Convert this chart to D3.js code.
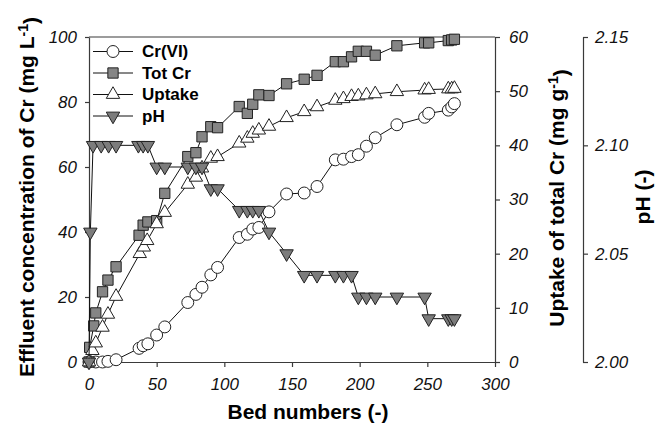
<!DOCTYPE html>
<html>
<head>
<meta charset="utf-8">
<script src="https://cdn.jsdelivr.net/npm/d3@7"></script>
<style>
body { margin: 0; background: #fff; }
text { font-family: "Liberation Sans", Arial, sans-serif; }
</style>
</head>
<body>
<div id="chart"></div>
<script>
// values
var crBed = [0, 5, 10, 14, 20, 37, 40, 43.5, 50, 56, 73, 79, 83.5, 90, 95, 111, 117, 121, 125.5, 133, 146, 159, 168.5, 182, 188, 194, 199, 205, 211.5, 227.5, 248, 251, 265.5, 268, 270]
var crVI = [0, 0, 0, 0.2, 0.7, 4.2, 5.0, 5.6, 8.3, 10.8, 18.3, 20.8, 23, 26.8, 29.1, 38.3, 39.3, 40.9, 41.4, 46.2, 51.7, 52, 54, 62.2, 62.4, 63.2, 63.8, 66.4, 69, 73, 75.3, 76.5, 77.5, 78.5, 79.5]

var totBed = [0, 0.5, 3.5, 5, 10, 14, 20, 37, 40, 43.5, 50, 56, 73, 79, 83.5, 90, 95, 111, 117, 121, 125.5, 133, 146, 159, 168.5, 182, 188, 194, 199, 205, 211.5, 227.5, 248, 251, 265.5, 268, 270]
var totCr = [0, 4.5, 11.1, 15.1, 21.6, 25.2, 29.3, 39, 42.1, 43.1, 43.5, 51.9, 63.2, 64.4, 69.3, 72.4, 72.1, 78.6, 76.5, 79.3, 82.2, 82, 85.6, 87, 88.2, 92.4, 92.4, 93.9, 95.6, 95.6, 94.4, 97.3, 98.2, 98.2, 98.9, 99.1, 99.3]

var upBed = [0, 2.5, 5, 10, 14, 20, 37.5, 40.5, 43, 50, 56, 73, 79, 83.5, 90, 95, 111, 117, 121, 125.5, 133, 146, 159, 168.5, 182, 188, 194, 199, 205, 211.5, 227.5, 248, 251, 265.5, 268, 270]
var uptake = [0, 2.1, 3.5, 6.4, 8.8, 12.1, 20, 21.2, 22.4, 25.5, 27.6, 32.8, 34.1, 35.8, 37.6, 37.9, 40.4, 41.3, 42.2, 42.8, 43.5, 45.1, 46.2, 47.1, 48.3, 48.6, 49, 49.1, 49.3, 49.5, 49.9, 50.2, 50.3, 50.4, 50.4, 50.5]

var phBed = [0, 1, 3, 9, 14.5, 20, 36.5, 40, 43.5, 50, 56, 73, 79, 83.5, 90, 95, 111, 117, 121, 125.5, 133, 146, 159, 168.5, 182, 188, 194, 199, 205, 211.5, 227.5, 248, 251, 265.5, 268, 270]
var ph = [2.00, 2.06, 2.10, 2.10, 2.10, 2.10, 2.10, 2.10, 2.10, 2.09, 2.09, 2.09, 2.09, 2.09, 2.08, 2.08, 2.07, 2.07, 2.07, 2.07, 2.06, 2.05, 2.04, 2.04, 2.04, 2.04, 2.04, 2.03, 2.03, 2.03, 2.03, 2.03, 2.02, 2.02, 2.02, 2.02]

var xTicks = [0, 50, 100, 150, 200, 250, 300]
var concTicks = [0, 20, 40, 60, 80, 100]
var upTicks = [0, 10, 20, 30, 40, 50, 60]
var phTicks = [2.00, 2.05, 2.10, 2.15]

var legendNames = ["Cr(VI)", "Tot Cr", "Uptake", "pH"]

var W = 655, H = 427
var plotL = 89, plotR = 495, plotT = 37, plotB = 362
var phAxisX = 583

var svg = d3.select("#chart")
  .append("svg")
  .attr("width", W)
  .attr("height", H)

var x = d3.scaleLinear().domain([0, 300]).range([plotL, plotR])
var yConc = d3.scaleLinear().domain([0, 100]).range([plotB, plotT])
var yUp = d3.scaleLinear().domain([0, 60]).range([plotB, plotT])
var yPh = d3.scaleLinear().domain([2.00, 2.15]).range([plotB, plotT])

var axisCol = "#3a3a3a"

function styleAxis(g) {
  g.select(".domain").attr("stroke", axisCol).attr("stroke-width", 1.2)
  g.selectAll(".tick line").attr("stroke", axisCol).attr("stroke-width", 1.2)
  g.selectAll(".tick text")
    .attr("fill", "#111")
    .style("font-size", "17px")
    .style("font-style", "italic")
    .style("font-family", "Liberation Sans, Arial, sans-serif")
}

// frame top line
svg.append("line")
  .attr("x1", plotL).attr("x2", plotR)
  .attr("y1", plotT).attr("y2", plotT)
  .attr("stroke", axisCol).attr("stroke-width", 1.2)

var gx = svg.append("g")
  .attr("transform", "translate(0," + plotB + ")")
  .call(d3.axisBottom(x).tickValues(xTicks).tickSize(5).tickPadding(11).tickSizeOuter(0))
styleAxis(gx)

var gl = svg.append("g")
  .attr("transform", "translate(" + plotL + ",0)")
  .call(d3.axisLeft(yConc).tickValues(concTicks).tickSize(4).tickPadding(8).tickSizeOuter(0))
styleAxis(gl)

var gr = svg.append("g")
  .attr("transform", "translate(" + plotR + ",0)")
  .call(d3.axisRight(yUp).tickValues(upTicks).tickSize(5).tickPadding(9).tickSizeOuter(0))
styleAxis(gr)

var gp = svg.append("g")
  .attr("transform", "translate(" + phAxisX + ",0)")
  .call(d3.axisRight(yPh).tickValues(phTicks).tickFormat(d3.format(".2f")).tickSize(5).tickPadding(7).tickSizeOuter(0))
styleAxis(gp)

// axis titles
var titleFont = "21px"
svg.append("text")
  .attr("x", 308).attr("y", 419)
  .attr("text-anchor", "middle")
  .style("font-size", titleFont).style("font-weight", "bold")
  .text("Bed numbers (-)")

function rotTitle(cx, cy, main, unit) {
  var t = svg.append("text")
    .attr("transform", "translate(" + cx + "," + cy + ") rotate(-90)")
    .attr("text-anchor", "middle")
    .attr("dy", "0.35em")
    .style("font-size", titleFont).style("font-weight", "bold")
  t.append("tspan").text(main)
  if (unit) {
    t.append("tspan").attr("dy", "-0.45em").style("font-size", "14px").text("-1")
    t.append("tspan").attr("dy", "0.45em").text(")")
  }
}
rotTitle(27, 197, "Effluent concentration of Cr (mg L", true)
rotTitle(557, 198, "Uptake of total Cr (mg g", true)
rotTitle(643, 197, "pH (-)", false)

// series
var series = [
  {bed: crBed, val: crVI, y: yConc, shape: "circle", fill: "#fff"},
  {bed: totBed, val: totCr, y: yConc, shape: "square", fill: "#858585"},
  {bed: upBed, val: uptake, y: yUp, shape: "up", fill: "#fff"},
  {bed: phBed, val: ph, y: yPh, shape: "down", fill: "#7c7c7c"}
]

function symPath(shape) {
  if (shape == "circle") return d3.symbol().type(d3.symbolCircle).size(112)()
  if (shape == "square") return d3.symbol().type(d3.symbolSquare).size(106)()
  return d3.symbol().type(d3.symbolTriangle).size(78)()
}
function symTransform(shape, px, py) {
  if (shape == "down") return "translate(" + px + "," + py + ") rotate(180)"
  return "translate(" + px + "," + py + ")"
}

series.forEach(function (s) {
  var pts = s.bed.map(function (b, i) { return {x: b, v: s.val[i]} })
  var line = d3.line()
    .x(function (d) { return x(d.x) })
    .y(function (d) { return s.y(d.v) })
  svg.append("path")
    .attr("d", line(pts))
    .attr("fill", "none")
    .attr("stroke", "#111")
    .attr("stroke-width", 1)
  svg.append("g").selectAll("path")
    .data(pts)
    .enter()
    .append("path")
    .attr("d", symPath(s.shape))
    .attr("transform", function (d) { return symTransform(s.shape, x(d.x), s.y(d.v)) })
    .attr("fill", s.fill)
    .attr("stroke", "#222")
    .attr("stroke-width", 1)
})

// legend
var legY = [51.5, 73, 94.5, 116]
var leg = svg.append("g")
legendNames.forEach(function (name, i) {
  var s = series[i]
  leg.append("line")
    .attr("x1", 93).attr("x2", 133)
    .attr("y1", legY[i]).attr("y2", legY[i])
    .attr("stroke", "#111").attr("stroke-width", 1)
  leg.append("path")
    .attr("d", symPath(s.shape))
    .attr("transform", symTransform(s.shape, 113, legY[i]))
    .attr("fill", s.fill)
    .attr("stroke", "#222")
  leg.append("text")
    .attr("x", 142).attr("y", legY[i])
    .attr("dy", "0.35em")
    .style("font-size", "17px").style("font-weight", "bold")
    .text(name)
})
</script>
</body>
</html>
